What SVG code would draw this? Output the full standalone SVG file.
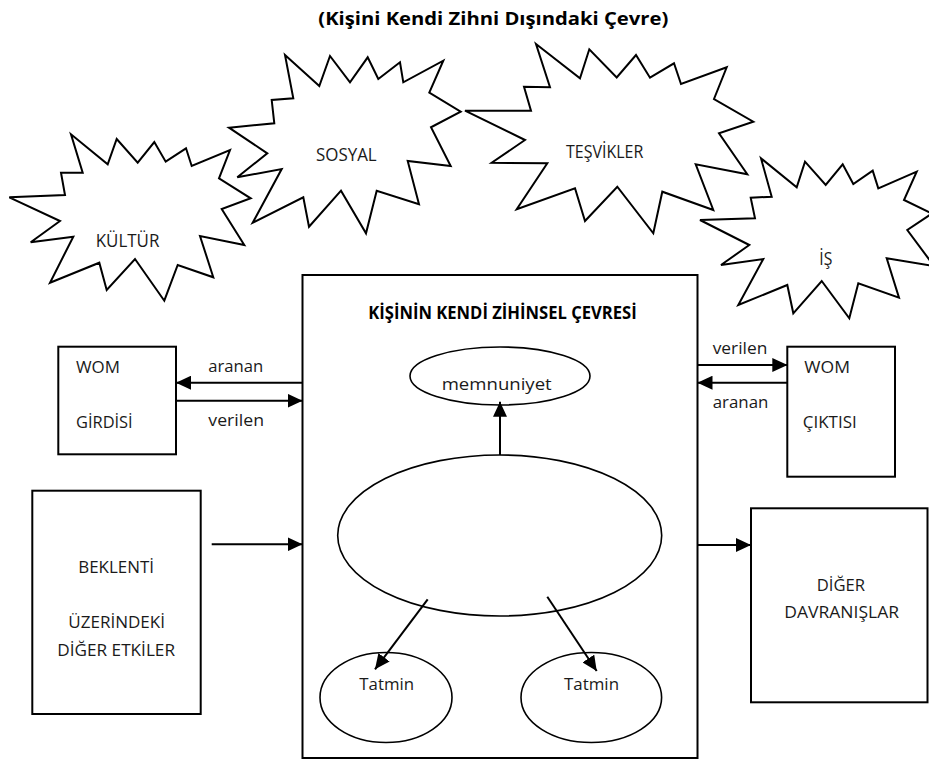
<svg xmlns="http://www.w3.org/2000/svg" width="929" height="763" viewBox="0 0 929 763">
<style>
.bg{fill:#ffffff}
.star{fill:#ffffff;stroke:#000;stroke-width:2;stroke-linejoin:miter}
.box{fill:#ffffff;stroke:#000;stroke-width:2}
.ell{fill:#ffffff;stroke:#000;stroke-width:1.6}
.ln{fill:none;stroke:#000;stroke-width:2}
.t{font-family:"Open Sans","Noto Sans","Liberation Sans",sans-serif;font-size:17px;fill:#1a1a1a}
.ts{font-family:"Open Sans","Noto Sans","Liberation Sans",sans-serif;font-size:17.5px;fill:#1a1a1a}
.tb{font-family:"Open Sans","Noto Sans","Liberation Sans",sans-serif;font-size:17.5px;font-weight:bold;fill:#000}
</style>
<defs>
<marker id="ah" viewBox="0 0 15 14" refX="15" refY="7" markerWidth="15" markerHeight="14" markerUnits="userSpaceOnUse" orient="auto">
<path d="M0,0 L15,7 L0,14 z" fill="#000"/>
</marker>
</defs>
<rect class="bg" x="0" y="0" width="929" height="763"/>
<text class="tb" x="318.3" y="25" textLength="350" lengthAdjust="spacingAndGlyphs">(Kişini Kendi Zihni Dışındaki Çevre)</text>

<g id="kultur">
<polygon class="star" points="9.3,197.3 65,195 61,172.7 82.7,172.7 71,134.3 107.7,164.3 116.7,139 137.7,162.7 154.3,142 165.7,161.7 186,148.3 191.7,166 230,150 219,178.3 250.7,198.3 221.7,209 244.3,245 200,236 213.3,277.3 177.7,265 164.3,300.7 135,259 106.7,290 99.3,262.7 50,282.7 73.3,236.7 30.7,242.3 60,221"/>
<text class="ts" x="95.7" y="247.3" textLength="63.7" lengthAdjust="spacingAndGlyphs">KÜLTÜR</text>
</g>

<g id="sosyal">
<polygon class="star" points="229,127.7 274.3,123.3 271.7,100 293.3,98.3 285,55 319.3,86 330,56 350,82.3 367.7,57.3 378.3,79 400,62.3 403.3,82.3 443.3,60.7 429.3,92.7 460.7,111.7 431,127.3 450.7,166 407.7,161 419,204.3 376.7,190.7 366,233.3 341,190.7 309,226.7 303.3,197.3 252.7,222.7 281.7,169 237.3,177.3 267.3,153.3"/>
<text class="ts" x="316" y="161" textLength="60.7" lengthAdjust="spacingAndGlyphs">SOSYAL</text>
</g>

<g id="tesvikler">
<polygon class="star" points="465,110.7 531,110.7 524,86.7 550,87.3 536,44 580,78.3 589.3,49.3 616.7,77.5 636,55 650,77.7 674,63.3 681,84 726.7,67.3 714,99 753.3,121.7 719,133.3 747.3,174.3 695.7,164.3 713.3,210 662.3,191.7 653.3,233.3 617.3,186.7 585,221 575,188.3 516.7,209.3 547.3,163.3 491.7,162.7 525,140"/>
<text class="ts" x="566" y="157.7" textLength="77.3" lengthAdjust="spacingAndGlyphs">TEŞVİKLER</text>
</g>

<g id="is">
<polygon class="star" points="700,220 755,218.3 750.7,197.7 771.7,196.7 761,158.3 796.7,187.3 805,161.7 825.7,185 842.7,164.3 853.3,184 872.7,170.7 878.3,188.3 916.7,171.7 904,200 932,213.5 907.3,230 934,266 886.7,258.3 899,297.7 858.3,283.3 849.3,318.3 821.7,281 793.3,313.3 787.3,285 738.3,305 763.3,259 721,265 749.3,245"/>
<text class="ts" x="819.3" y="265" textLength="13" lengthAdjust="spacingAndGlyphs">İŞ</text>
</g>

<g id="main">
<rect class="box" x="302.5" y="275" width="395" height="483"/>
<text class="tb" x="368.3" y="319.3" textLength="268.4" lengthAdjust="spacingAndGlyphs">KİŞİNİN KENDİ ZİHİNSEL ÇEVRESİ</text>
</g>

<g id="memnuniyet">
<ellipse class="ell" cx="500" cy="376" rx="90" ry="29"/>
<text class="t" x="441.7" y="390" textLength="110" lengthAdjust="spacingAndGlyphs">memnuniyet</text>
</g>

<g id="center-ellipse">
<ellipse class="ell" cx="499.7" cy="535.5" rx="162" ry="80.5"/>
</g>

<g id="tatmin1">
<ellipse class="ell" cx="386" cy="697.5" rx="66" ry="45"/>
<text class="t" x="359.3" y="690" textLength="54.7" lengthAdjust="spacingAndGlyphs">Tatmin</text>
</g>

<g id="tatmin2">
<ellipse class="ell" cx="591.3" cy="697.5" rx="70.3" ry="45"/>
<text class="t" x="564" y="690" textLength="55" lengthAdjust="spacingAndGlyphs">Tatmin</text>
</g>

<g id="wom-girdisi">
<rect class="box" x="58.3" y="346.7" width="117.7" height="107.6"/>
<text class="t" x="76" y="373.3" textLength="44" lengthAdjust="spacingAndGlyphs">WOM</text>
<text class="t" x="76" y="428.3" textLength="56.7" lengthAdjust="spacingAndGlyphs">GİRDİSİ</text>
</g>

<g id="wom-ciktisi">
<rect class="box" x="787.3" y="346.7" width="107.7" height="130"/>
<text class="t" x="804.3" y="373.3" textLength="45.7" lengthAdjust="spacingAndGlyphs">WOM</text>
<text class="t" x="802.7" y="428.3" textLength="54" lengthAdjust="spacingAndGlyphs">ÇIKTISI</text>
</g>

<g id="beklenti">
<rect class="box" x="32.3" y="490.7" width="168.4" height="223.3"/>
<text class="t" x="78.3" y="573.3" textLength="75.7" lengthAdjust="spacingAndGlyphs">BEKLENTİ</text>
<text class="t" x="68.3" y="628.3" textLength="96.7" lengthAdjust="spacingAndGlyphs">ÜZERİNDEKİ</text>
<text class="t" x="57.3" y="655.7" textLength="117.7" lengthAdjust="spacingAndGlyphs">DİĞER ETKİLER</text>
</g>

<g id="diger-davranislar">
<rect class="box" x="751" y="508.3" width="176.5" height="194"/>
<text class="t" x="816.7" y="590.7" textLength="48.3" lengthAdjust="spacingAndGlyphs">DİĞER</text>
<text class="t" x="784.3" y="618.3" textLength="114.7" lengthAdjust="spacingAndGlyphs">DAVRANIŞLAR</text>
</g>

<g id="connectors">
<line class="ln" x1="302.5" y1="382.7" x2="176" y2="382.7" marker-end="url(#ah)"/>
<line class="ln" x1="176" y1="400.7" x2="302.5" y2="400.7" marker-end="url(#ah)"/>
<line class="ln" x1="697.5" y1="365" x2="787.3" y2="365" marker-end="url(#ah)"/>
<line class="ln" x1="787.3" y1="382.7" x2="697.5" y2="382.7" marker-end="url(#ah)"/>
<line class="ln" x1="211.7" y1="544.3" x2="302.5" y2="544.3" marker-end="url(#ah)"/>
<line class="ln" x1="697.5" y1="545" x2="751" y2="545" marker-end="url(#ah)"/>
<line class="ln" x1="500" y1="455" x2="500" y2="401.7" marker-end="url(#ah)"/>
<line class="ln" x1="427.7" y1="599.3" x2="375" y2="669.3" marker-end="url(#ah)"/>
<line class="ln" x1="547.3" y1="596.7" x2="596.7" y2="671" marker-end="url(#ah)"/>
<text class="t" x="208.3" y="372.3" textLength="55" lengthAdjust="spacingAndGlyphs">aranan</text>
<text class="t" x="208.3" y="426" textLength="55.7" lengthAdjust="spacingAndGlyphs">verilen</text>
<text class="t" x="712.7" y="354" textLength="54.7" lengthAdjust="spacingAndGlyphs">verilen</text>
<text class="t" x="712.7" y="408.3" textLength="55.7" lengthAdjust="spacingAndGlyphs">aranan</text>
</g>
</svg>
